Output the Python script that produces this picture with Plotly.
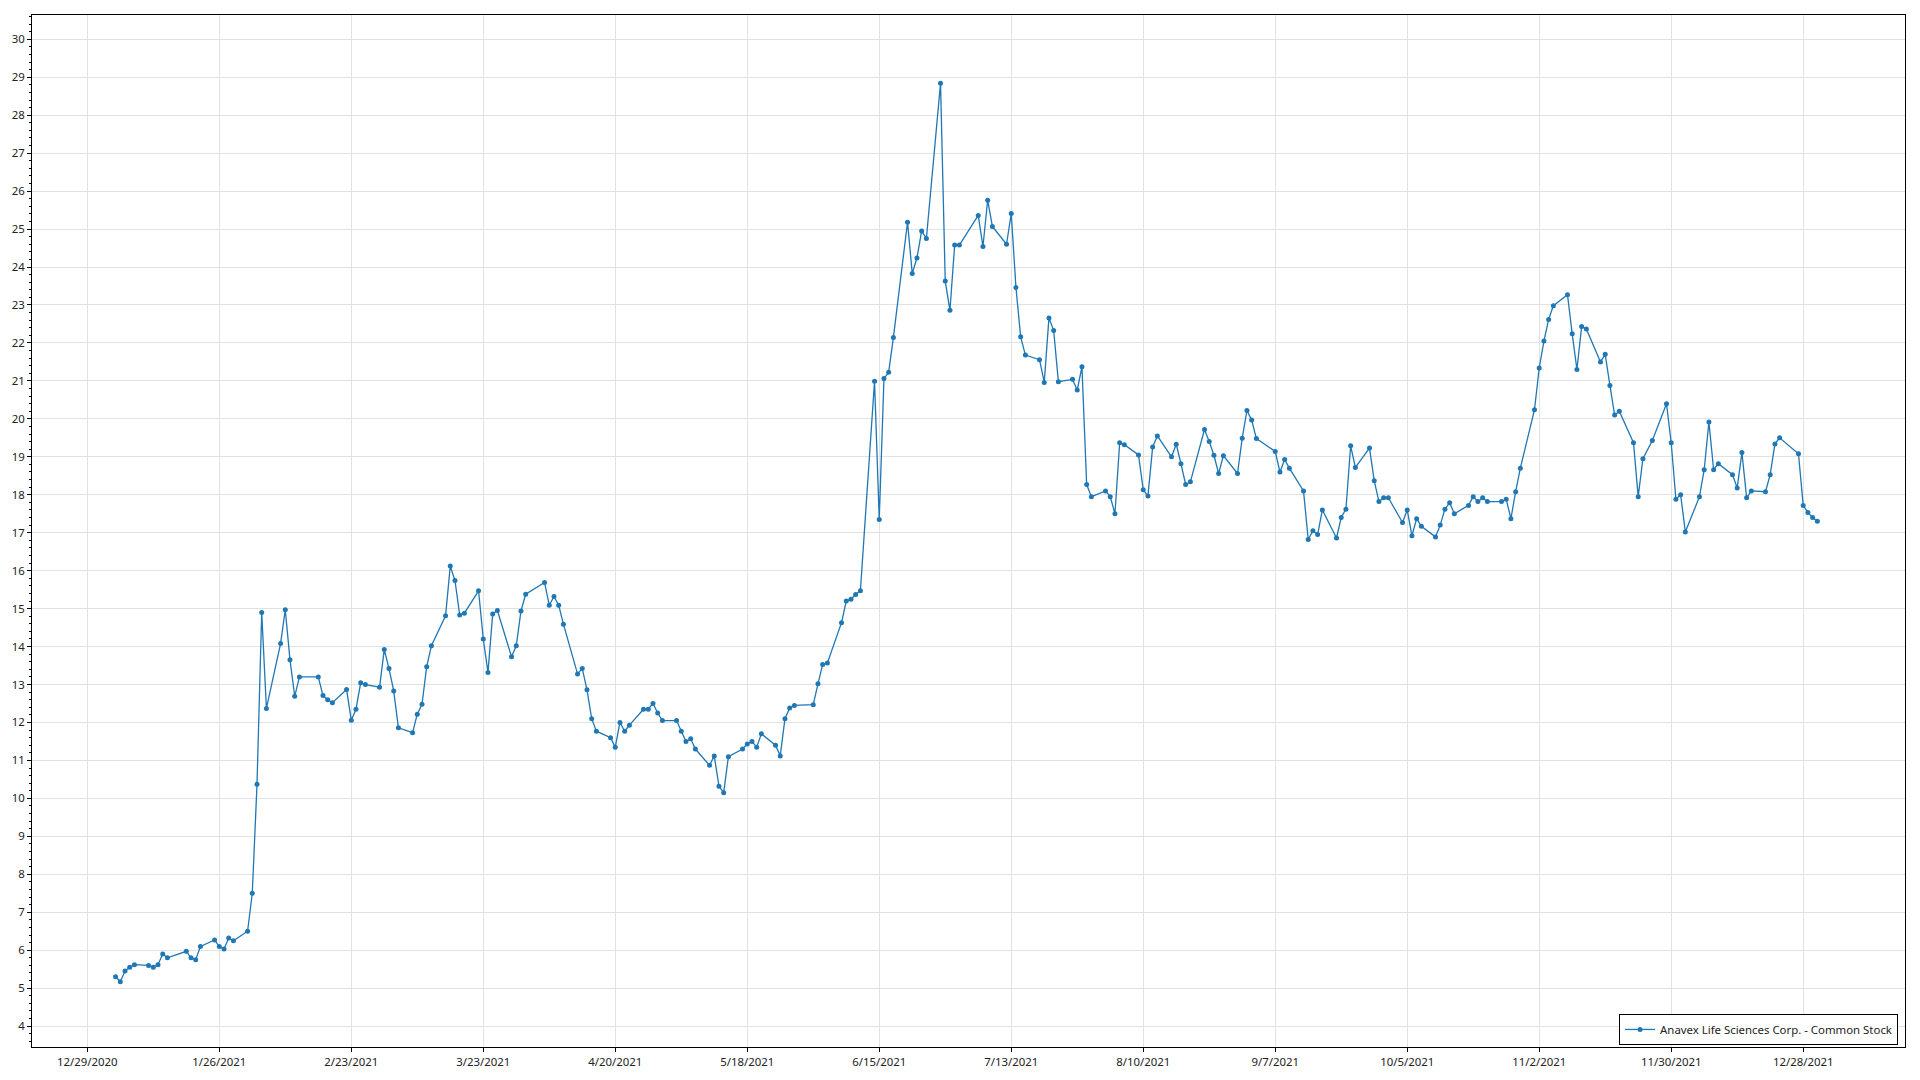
import pandas as pd
import plotly.graph_objects as go

series_name = "Anavex Life Sciences Corp. - Common Stock"

# NYSE holidays 2021 (trading calendar)
holidays = ["2021-01-01", "2021-01-18", "2021-02-15", "2021-04-02", "2021-05-31",
            "2021-07-05", "2021-09-06", "2021-11-25", "2021-12-24"]
dates = [d for d in pd.bdate_range("2021-01-01", "2021-12-31") if d.strftime("%Y-%m-%d") not in holidays]

jan = [5.30, 5.17, 5.45, 5.55, 5.62, 5.60, 5.55, 5.62, 5.90, 5.80, 5.97, 5.80, 5.75, 6.10, 6.27, 6.10, 6.03, 6.32, 6.25]
feb = [6.50, 7.50, 10.37, 14.90, 12.37, 14.08, 14.97, 13.65, 12.69, 13.20, 13.20, 12.71, 12.60, 12.52, 12.87, 12.06, 12.35, 13.05, 13.00]
mar = [12.93, 13.92, 13.42, 12.83, 11.86, 11.73, 12.22, 12.48, 13.47, 14.02, 14.81, 16.12, 15.74, 14.83, 14.88, 15.47, 14.20, 13.32, 14.86, 14.95, 13.73, 14.02, 14.94]
apr = [15.38, 15.69, 15.09, 15.32, 15.09, 14.59, 13.28, 13.42, 12.86, 12.10, 11.77, 11.60, 11.35, 12.00, 11.77, 11.93, 12.35, 12.35, 12.50, 12.25, 12.05]
may = [12.05, 11.77, 11.50, 11.57, 11.30, 10.87, 11.12, 10.32, 10.15, 11.10, 11.30, 11.43, 11.50, 11.35, 11.70, 11.40, 11.12, 12.10, 12.38, 12.45]
jun = [12.47, 13.02, 13.53, 13.57, 14.63, 15.20, 15.25, 15.37, 15.47, 20.99, 17.35, 21.06, 21.23, 22.14, 25.18, 23.83, 24.24, 24.95, 24.75, 28.84, 23.63, 22.86]
jul = [24.58, 24.58, 25.36, 24.54, 25.76, 25.07, 24.60, 25.41, 23.46, 22.16, 21.68, 21.56, 20.96, 22.66, 22.33, 20.98, 21.04, 20.76, 21.37, 18.27, 17.95]
aug = [18.10, 17.95, 17.50, 19.37, 19.32, 19.05, 18.13, 17.97, 19.26, 19.55, 19.00, 19.33, 18.82, 18.27, 18.34, 19.72, 19.40, 19.04, 18.56, 19.03, 18.56, 19.49]
sep = [20.22, 19.97, 19.48, 19.14, 18.60, 18.93, 18.70, 18.10, 16.82, 17.05, 16.95, 17.60, 16.86, 17.40, 17.62, 19.29, 18.72, 19.23, 18.37, 17.82, 17.92]
octo = [17.92, 17.27, 17.60, 16.92, 17.37, 17.17, 16.89, 17.20, 17.62, 17.79, 17.50, 17.72, 17.95, 17.82, 17.92, 17.82, 17.82, 17.88, 17.37, 18.08, 18.70]
nov = [20.24, 21.34, 22.05, 22.62, 22.98, 23.27, 22.24, 21.30, 22.43, 22.37, 21.50, 21.70, 20.88, 20.10, 20.20, 19.37, 17.95, 18.95, 19.43, 20.40, 19.37]
dec = [17.88, 18.00, 17.02, 17.95, 18.66, 19.92, 18.66, 18.82, 18.53, 18.18, 19.11, 17.92, 18.10, 18.08, 18.53, 19.34, 19.50, 19.08, 17.72, 17.53, 17.40, 17.30]

prices = jan + feb + mar + apr + may + jun + jul + aug + sep + octo + nov + dec

x_tick_vals = ["2020-12-29", "2021-01-26", "2021-02-23", "2021-03-23", "2021-04-20", "2021-05-18",
               "2021-06-15", "2021-07-13", "2021-08-10", "2021-09-07", "2021-10-05", "2021-11-02",
               "2021-11-30", "2021-12-28"]
x_tick_text = ["12/29/2020", "1/26/2021", "2/23/2021", "3/23/2021", "4/20/2021", "5/18/2021",
               "6/15/2021", "7/13/2021", "8/10/2021", "9/7/2021", "10/5/2021", "11/2/2021",
               "11/30/2021", "12/28/2021"]

fig = go.Figure()
fig.add_trace(go.Scatter(
    x=dates, y=prices, mode="lines+markers", name=series_name,
    line=dict(color="#1f77b4", width=1.3),
    marker=dict(color="#1f77b4", size=5, symbol="circle"),
    showlegend=True,
))

font = dict(family="Noto Sans, Open Sans, sans-serif", size=11.4, color="#222222")

fig.update_layout(
    width=1912, height=1072,
    margin=dict(l=24, r=15, t=7, b=33, autoexpand=False),
    paper_bgcolor="white", plot_bgcolor="white",
    font=font,
    showlegend=True,
    legend=dict(
        x=0.9963, y=0.002, xanchor="right", yanchor="bottom",
        bgcolor="white", bordercolor="black", borderwidth=1,
        font=dict(family="Noto Sans, Open Sans, sans-serif", size=11.4, color="#222222"),
    ),
    xaxis=dict(
        type="date", automargin=False,
        range=["2020-12-17 06:30", "2022-01-18 14:20"],
        tickvals=x_tick_vals, ticktext=x_tick_text,
        showgrid=True, gridcolor="#e2e2e2", gridwidth=1,
        showline=True, linecolor="black", linewidth=1, mirror=True,
        ticks="outside", ticklen=4, tickcolor="black",
        zeroline=False,
    ),
    yaxis=dict(
        automargin=False,
        range=[3.45, 30.64],
        dtick=1, tick0=0,
        showgrid=True, gridcolor="#e2e2e2", gridwidth=1,
        showline=True, linecolor="black", linewidth=1, mirror=True,
        ticks="outside", ticklen=4, tickcolor="black",
        minor=dict(dtick=0.2, ticks="outside", ticklen=2, tickcolor="black", showgrid=False),
        zeroline=False,
    ),
)

fig.write_html("out.html")
